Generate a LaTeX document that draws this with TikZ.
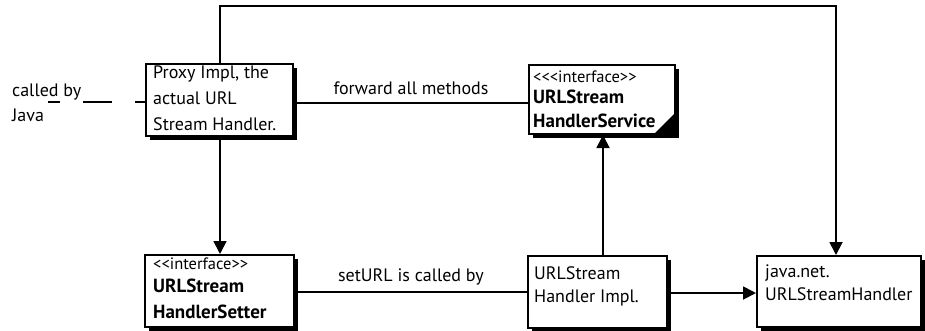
\documentclass[tikz,border=0pt]{standalone}
\usepackage{fontspec}
\setmainfont{PT Sans}
\usetikzlibrary{arrows.meta,shadows}
\begin{document}
\begin{tikzpicture}[x=1pt,y=-1pt,
  box/.style={draw,line width=2pt,fill=white,anchor=north west,inner sep=0pt,
    general shadow={fill=black,shadow xshift=4pt,shadow yshift=-4pt}},
  txt/.style={anchor=north west,align=left,inner sep=0pt,font=\fontsize{18}{26}\selectfont},
  conn/.style={line width=1.8pt},
  arr/.style={conn,-{Triangle[length=13pt,width=13pt]}},
  lbl/.style={anchor=base,inner sep=0pt,font=\fontsize{18}{20}\selectfont}]
\useasboundingbox (0,0) rectangle (925,330);
% boxes
\node[box,minimum width=147pt,minimum height=72pt] (proxy) at (145,63) {};
\node[box,minimum width=146pt,minimum height=69pt] (service) at (528,64) {};
\node[box,minimum width=149pt,minimum height=72pt] (setter) at (144,254) {};
\node[box,minimum width=139pt,minimum height=72pt] (impl) at (527,255) {};
\node[box,minimum width=164pt,minimum height=71pt] (javanet) at (756,255) {};
% texts
\node[txt] (proxyt) at (153,66) {Proxy Impl, the\\actual URL\\Stream Handler.};
\node[txt,font=\fontsize{19}{24}\selectfont] (servicet) at (533,71) {{\fontsize{16.5}{16}\selectfont {<}{<}{<}interface{>}{>}}\\[-3pt]\textbf{URLStream}\\\textbf{HandlerService}};
\fill (service.south east) -- ++(0,-23) -- ++(-23,23) -- cycle;
\node[txt,font=\fontsize{19}{26}\selectfont] (settert) at (153,258) {{\fontsize{16.5}{16}\selectfont {<}{<}interface{>}{>}}\\[-3pt]\textbf{URLStream}\\\textbf{HandlerSetter}};
\node[txt,font=\fontsize{18}{23}\selectfont] (implt) at (534,266) {URLStream\\Handler Impl.};
\node[txt,font=\fontsize{18}{23}\selectfont] (javat) at (765,265) {java.net.\\URLStreamHandler};
\node[txt,font=\fontsize{18}{25}\selectfont] (calledby) at (12,84) {called by\\Java};
% connectors
\coordinate (cj) at (48,102);
\draw[conn,dash pattern=on 12pt off 23pt on 29pt off 23pt on 10pt] (cj) -- (cj -| proxy.west);
\coordinate (fw) at (0,103);
\draw[conn] (proxy.east |- fw) -- node[lbl,above=7pt] (fwl) {forward all methods} (service.west |- fw);
\coordinate (px) at (220,0);
\draw[arr] (proxy.south -| px) -- (setter.north -| px);
\coordinate (sl) at (0,292);
\draw[conn] (setter.east |- sl) -- node[lbl,above=6pt] (sll) {setURL is called by} (impl.west |- sl);
\coordinate (iu) at (603,0);
\draw[arr] (impl.north -| iu) -- (service.south -| iu);
\coordinate (ij) at (0,293);
\draw[arr] (impl.east |- ij) -- (javanet.west |- ij);
\coordinate (tp) at (0,6);
\coordinate (jx) at (836,0);
\draw[arr] (proxy.north -| px) -- (tp -| px) -- (tp -| jx) -- (javanet.north -| jx);
\end{tikzpicture}
\end{document}
